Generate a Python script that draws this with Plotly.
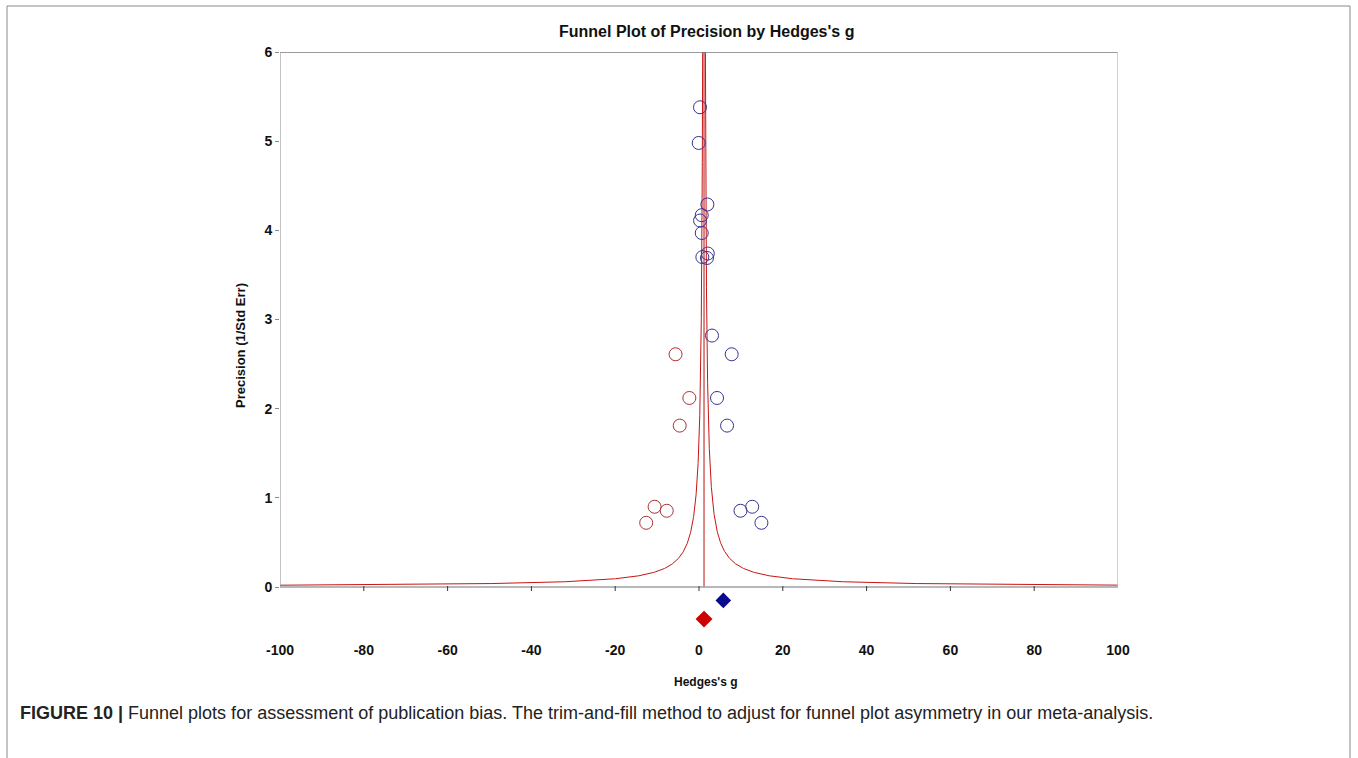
import plotly.graph_objects as go
import numpy as np

# ---------------- data ----------------
observed_g = [0.24, -0.07, 2.0, 0.65, 0.25, 0.65, 0.8, 2.1, 1.9, 3.1, 7.8, 4.3, 6.7, 9.9, 12.7, 14.9]
observed_precision = [5.38, 4.98, 4.29, 4.17, 4.11, 3.97, 3.70, 3.74, 3.69, 2.82, 2.61, 2.12, 1.81, 0.855, 0.90, 0.72]

imputed_g = [-5.6, -2.3, -4.6, -7.7, -10.6, -12.6]
imputed_precision = [2.61, 2.12, 1.81, 0.855, 0.90, 0.72]

observed_mean = [5.8]
observed_mean_y = [-0.15]
adjusted_mean = [1.2]
adjusted_mean_y = [-0.36]

x_ticks = [-100, -80, -60, -40, -20, 0, 20, 40, 60, 80, 100]
y_ticks = [0, 1, 2, 3, 4, 5, 6]

title_text = "Funnel Plot of Precision by Hedges's g"
x_title = "Hedges's g"
y_title = "Precision (1/Std Err)"
caption_bold = "FIGURE 10 |"
caption_text = (" Funnel plots for assessment of publication bias. The trim-and-fill method "
                "to adjust for funnel plot asymmetry in our meta-analysis.")

# ---------------- layout geometry ----------------
W, H = 1358, 758
L, R, T, B = 280, 1358 - 1118, 52, 758 - 640
plot_w, plot_h = W - L - R, H - T - B
Y_MAX = 6
Y_MIN = -(640 - 587) / ((587 - 52) / 6.0)


def px_x(px):
    return (px - L) / plot_w


def px_y(py):
    return (H - B - py) / plot_h


FONT = "Liberation Sans, Arial, sans-serif"
RED = "#c81414"

# funnel (95% pseudo-confidence limits around the adjusted estimate)
center = adjusted_mean[0]
prec = np.geomspace(0.0185, Y_MAX, 600)
left_lim = center - 1.96 / prec
right_lim = center + 1.96 / prec

fig = go.Figure()

fig.add_trace(go.Scatter(x=left_lim, y=prec, mode="lines",
                         line=dict(color=RED, width=1), hoverinfo="skip", showlegend=False))
fig.add_trace(go.Scatter(x=right_lim, y=prec, mode="lines",
                         line=dict(color=RED, width=1), hoverinfo="skip", showlegend=False))
fig.add_trace(go.Scatter(x=[center, center], y=[0, Y_MAX], mode="lines",
                         line=dict(color="#d06060", width=1.5), hoverinfo="skip", showlegend=False))

fig.add_trace(go.Scatter(x=observed_g, y=observed_precision, mode="markers",
                         marker=dict(symbol="circle-open", size=13, color="#34348f", line=dict(width=1)),
                         showlegend=False, name="Observed"))
fig.add_trace(go.Scatter(x=imputed_g, y=imputed_precision, mode="markers",
                         marker=dict(symbol="circle-open", size=13, color="#b03030", line=dict(width=1)),
                         showlegend=False, name="Imputed"))

fig.add_trace(go.Scatter(x=observed_mean, y=observed_mean_y, mode="markers",
                         marker=dict(symbol="diamond", size=12, color="#0a0a90"),
                         showlegend=False, name="Observed mean"))
fig.add_trace(go.Scatter(x=adjusted_mean, y=adjusted_mean_y, mode="markers",
                         marker=dict(symbol="diamond", size=13, color="#cc0000"),
                         showlegend=False, name="Adjusted mean"))

shapes = []
# plot frame (x -100..100, y 0..6)
shapes.append(dict(type="line", xref="x", yref="y", x0=-100, x1=100, y0=Y_MAX, y1=Y_MAX,
                   line=dict(color="#7a7a7a", width=1.5)))
shapes.append(dict(type="line", xref="x", yref="y", x0=-100, x1=-100, y0=0, y1=Y_MAX,
                   line=dict(color="#9a9a9a", width=1.2)))
shapes.append(dict(type="line", xref="x", yref="y", x0=100, x1=100, y0=0, y1=Y_MAX,
                   line=dict(color="#c0c0c0", width=1.5)))
shapes.append(dict(type="line", xref="x", yref="y", x0=-100, x1=100, y0=0, y1=0,
                   line=dict(color="#a0a0a0", width=1.5)))
# x tick marks on the y=0 axis line
for tv in x_ticks[1:-1]:
    shapes.append(dict(type="line", xref="x", yref="y", x0=tv, x1=tv, y0=0.01, y1=-0.045,
                       line=dict(color="#333333", width=1)))
# outer figure border
shapes.append(dict(type="line", xref="paper", yref="paper", x0=px_x(7), x1=px_x(7),
                   y0=px_y(6), y1=px_y(760), line=dict(color="#8a8a8a", width=1)))
shapes.append(dict(type="line", xref="paper", yref="paper", x0=px_x(7), x1=px_x(1350),
                   y0=px_y(6), y1=px_y(6), line=dict(color="#8a8a8a", width=1)))
shapes.append(dict(type="line", xref="paper", yref="paper", x0=px_x(1350), x1=px_x(1350),
                   y0=px_y(6), y1=px_y(760), line=dict(color="#8a8a8a", width=1)))

annotations = [
    dict(text="<b>" + title_text + "</b>", xref="paper", yref="paper", x=px_x(706), y=px_y(32),
         showarrow=False, font=dict(family=FONT, size=16, color="#111"), xanchor="center", yanchor="middle"),
    dict(text="<b>" + x_title + "</b>", xref="paper", yref="paper", x=px_x(706), y=px_y(682),
         showarrow=False, font=dict(family=FONT, size=12, color="#111"), xanchor="center", yanchor="middle"),
    dict(text="<b>" + y_title + "</b>", xref="paper", yref="paper", x=px_x(240), y=px_y(346),
         showarrow=False, textangle=-90, font=dict(family=FONT, size=13, color="#111"),
         xanchor="center", yanchor="middle"),
    dict(text="<b>" + caption_bold + "</b>" + caption_text, xref="paper", yref="paper",
         x=px_x(18), y=px_y(713), showarrow=False, font=dict(family=FONT, size=18, color="#222"),
         xanchor="left", yanchor="middle"),
]

fig.update_layout(
    width=W, height=H,
    margin=dict(l=L, r=R, t=T, b=B),
    paper_bgcolor="white", plot_bgcolor="white",
    showlegend=False,
    shapes=shapes,
    annotations=annotations,
    xaxis=dict(range=[-100, 100], tickvals=x_ticks, ticktext=["<b>%d</b>" % v for v in x_ticks],
               showgrid=False, zeroline=False, showline=False, ticks="",
               tickfont=dict(family=FONT, size=14, color="#111")),
    yaxis=dict(range=[Y_MIN, Y_MAX], tickvals=y_ticks, ticktext=["<b>%d</b>" % v for v in y_ticks],
               showgrid=False, zeroline=False, showline=False, ticks="outside", ticklen=4,
               tickcolor="#888", tickwidth=1,
               tickfont=dict(family=FONT, size=14, color="#111")),
)

fig.write_html("out.html", config={"displayModeBar": False},
               post_script="document.body.style.margin='0px';document.body.style.overflow='hidden';")
